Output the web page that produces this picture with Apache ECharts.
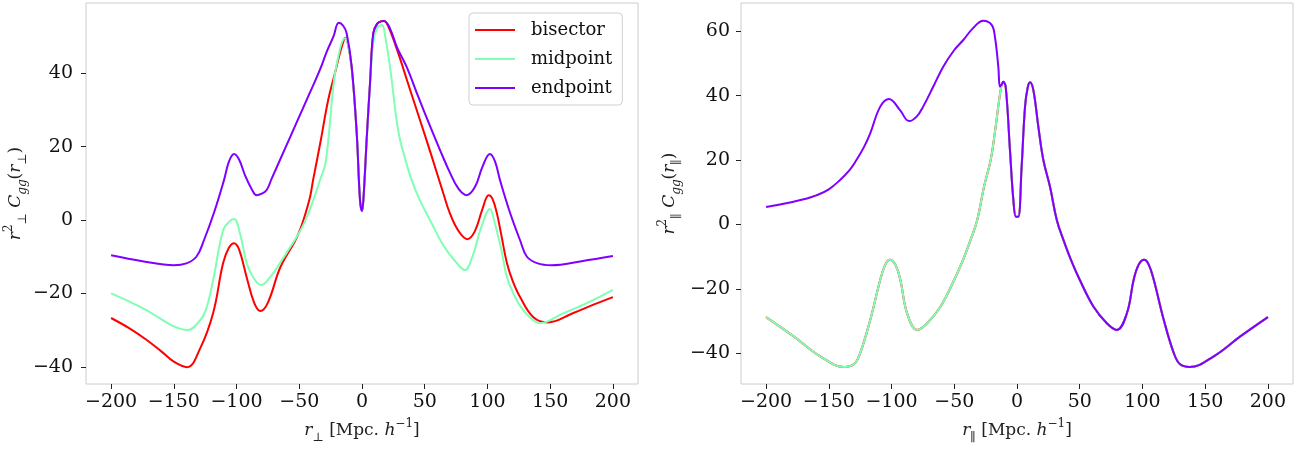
<!DOCTYPE html>
<html><head><meta charset="utf-8">
<script src="https://cdn.jsdelivr.net/npm/echarts@6/dist/echarts.min.js"></script>
<style>html,body{margin:0;padding:0;background:#fff}#c{width:1303px;height:450px}</style>
</head><body><div id="c"></div>
<script>
// ---- data: left panel (r_perp) ----
var perpBisectorX = [-200,-185,-171.6,-160,-150,-139.4,-129,-118.7,-110.7,-106,-102,-98,-92,-86,-81,-75,-65,-51,-42,-39,-33,-27,-22,-18,-15,-13.5,-11.5,-8.2,-4.2,-1.6,0,1.1,4,6.4,9,12,15,17.5,21,28,36,46,55,64.8,70,77,84,90,96,101,104,107.5,111,115.5,120,126,136.6,148,168,185,200];
var perpBisectorY = [-26.7,-29.6,-32.7,-35.8,-38.6,-40.1,-35,-25.4,-11.7,-7.5,-6.3,-8,-15.5,-22.5,-24.8,-22.5,-12.8,-4,5.5,10.9,21.5,32.7,39.5,45,48.5,49.7,48.5,41.5,23.6,5.5,2.5,5.5,23.7,37.4,51,53.5,54.2,54.3,52.8,46.4,38,27.5,18,7.3,1.9,-3,-5.2,-3,3,6.8,5.8,1.9,-4,-11.7,-16.5,-21,-26.5,-27.9,-25.4,-23,-21];
var perpMidpointX = [-200,-185,-171.6,-160,-150,-139,-129,-124,-118.7,-110.7,-106,-102,-97,-91.9,-86,-80.5,-72,-65,-58,-51,-45,-38.8,-33.5,-28.9,-22.3,-18.9,-16,-13.5,-11.5,-8.2,-4.2,-1.6,0,1.1,4,6.4,9,12,15.7,19,23,29,35,39.6,46,55,65,75,82,88,95,102,106,107.3,111,115.3,120,126,134,142,160,180,200];
var perpMidpointY = [-20,-22.3,-24.6,-27,-29,-30,-27.3,-24,-16.4,-2.7,-0.5,0.3,-4,-11.8,-16,-17.7,-15,-11.5,-7.8,-4,0,5.5,10.9,15.9,38.2,44.6,48.5,49.6,48.5,41.5,23.6,5.5,2.5,5.5,23,37,48.5,52.3,53.2,49,40,24.1,16,10.9,5.5,-0.5,-7,-11.5,-13.6,-10,-2,3,-1,-2.7,-8,-15.3,-19.5,-23.4,-26.6,-28.1,-25.5,-22.5,-19];
var perpEndpointX = [-200,-175,-150,-140,-132,-126,-118,-110,-106,-102,-98,-93,-88,-84,-80,-76,-72,-62,-52,-42,-33.5,-28,-22.8,-18.5,-15,-12.2,-8.2,-4.2,-1.6,0,1.1,4,6.4,9,12,15,17.5,22,28,35.6,45,55,62.2,70,77,83.4,90,96,102,106,110,118,126,131.5,140,151,175,200];
var perpEndpointY = [-9.6,-11.2,-12.3,-11.8,-10,-5.5,2,10.9,16,18,16.5,12,8.5,6.8,7.2,8.2,11.3,19,26.7,34.4,41,46,50,53.8,53,50.9,41.8,23.6,5.5,2.5,5.5,23.7,37.4,51,53.5,54.2,54.3,52.5,47,41.8,33.5,25,19.1,13,8.5,6.8,9,14.5,18,16,10.9,2,-5.5,-10,-11.8,-12.3,-11.2,-9.8];

// ---- data: right panel (r_par) ----
var parEndpointX = [-200,-190,-180,-170,-160,-150,-141,-134,-128,-122,-117,-109,-102,-93.4,-86,-80,-74.8,-66,-58.8,-50,-42.8,-35,-26.9,-20.2,-17.6,-14.9,-13.6,-12.2,-11,-9,-5.6,-2.9,-0.8,1,3.7,6.4,8.5,10.4,13,17,21,26.3,31.7,37,43,50,60.9,71.6,79.6,87.6,93,97,101.4,105,109,117,125,130,137.6,156.8,178,200];
var parEndpointY = [5.4,6.1,6.9,7.8,9,10.9,13.8,16.6,20,24,28.3,36.6,39,35.6,32.1,33.5,36.6,43.4,49,54.2,57.3,61,63.3,62,58.3,49,42.8,43.5,44.3,42.7,23,7.6,2.4,2.4,18,36.6,42.5,44.2,41.8,30.4,20,11.7,1.4,-4.8,-11,-17.2,-25.5,-30.7,-32.8,-27.6,-17.2,-12.5,-11,-12.5,-17.2,-29.7,-40,-43.5,-44.3,-41,-34.8,-28.8];
var parMidpointX = [-200,-178,-156.8,-137.6,-130,-125,-117,-109,-105,-101.4,-97,-93,-87.6,-79.6,-71.6,-60.9,-50,-43,-37,-31.7,-26.3,-21,-17,-13,-11,-9,-5.6,-2.9,-0.8,1,3.7,6.4,8.5,10.4,13,17,21,26.3,31.7,37,43,50,60.9,71.6,79.6,87.6,93,97,101.4,105,109,117,125,130,137.6,156.8,178,200];
var parMidpointY = [-28.8,-34.8,-41,-44.3,-43.5,-40,-29.7,-17.2,-12.5,-11,-12.5,-17.2,-27.6,-32.8,-30.7,-25.5,-17.2,-11,-4.8,1.4,11.7,20,30.4,41.8,44.3,42.7,23,7.6,2.4,2.4,18,36.6,42.5,44.2,41.8,30.4,20,11.7,1.4,-4.8,-11,-17.2,-25.5,-30.7,-32.8,-27.6,-17.2,-12.5,-11,-12.5,-17.2,-29.7,-40,-43.5,-44.3,-41,-34.8,-28.8];
var parBisectorX = [-200,-178,-156.8,-137.6,-130,-125,-117,-109,-105,-101.4,-97,-93,-87.6,-79.6,-71.6,-60.9,-50,-43,-37,-31.7,-26.3,-21,-17,-13,-11,-9,-5.6,-2.9,-0.8,1,3.7,6.4,8.5,10.4,13,17,21,26.3,31.7,37,43,50,60.9,71.6,79.6,87.6,93,97,101.4,105,109,117,125,130,137.6,156.8,178,200];
var parBisectorY = [-28.8,-34.8,-41,-44.3,-43.5,-40,-29.7,-17.2,-12.5,-11,-12.5,-17.2,-27.6,-32.8,-30.7,-25.5,-17.2,-11,-4.8,1.4,11.7,20,30.4,41.8,44.3,42.7,23,7.6,2.4,2.4,18,36.6,42.5,44.2,41.8,30.4,20,11.7,1.4,-4.8,-11,-17.2,-25.5,-30.7,-32.8,-27.6,-17.2,-12.5,-11,-12.5,-17.2,-29.7,-40,-43.5,-44.3,-41,-34.8,-28.8];

// ---- ticks ----
var xTicks = [-200,-150,-100,-50,0,50,100,150,200];
var yTicksLeft = [-40,-20,0,20,40];
var yTicksRight = [-40,-20,0,20,40,60];
var seriesNames = ['bisector','midpoint','endpoint'];
var colors = ['#ff0000','#80feb3','#8000ff'];

function zip(xs, ys){ var o=[]; for(var i=0;i<xs.length;i++) o.push([xs[i],ys[i]]); return o; }
var FONT = 'DejaVu Serif';
function fmt(v){ return String(v).replace('-', '\u2212'); }

var nameRich = {
  i:{fontFamily:FONT,fontStyle:'italic',fontSize:17,color:'#222',lineHeight:26},
  n:{fontFamily:FONT,fontSize:17,color:'#222',lineHeight:26},
  sub:{fontFamily:FONT,fontStyle:'italic',fontSize:12,color:'#222',verticalAlign:'bottom',lineHeight:26},
  sup:{fontFamily:FONT,fontSize:12,color:'#222',verticalAlign:'top',lineHeight:26}
};

function xAxis(grid, name){
  return {type:'value', gridIndex:grid, min:-220, max:220,
    axisLine:{show:false, onZero:false}, splitLine:{show:false},
    axisTick:{show:true, inside:false, length:5, lineStyle:{color:'#222',width:1}, customValues:xTicks},
    axisLabel:{show:true, margin:9, fontFamily:FONT, fontSize:19, color:'#111', formatter:fmt, customValues:xTicks},
    name:name, nameLocation:'middle', nameGap:34, nameTextStyle:{rich:nameRich}};
}
function yAxis(grid, min, max, ticks, name, gap, margin){
  return {type:'value', gridIndex:grid, min:min, max:max,
    axisLine:{show:false, onZero:false}, splitLine:{show:false},
    axisTick:{show:true, inside:false, length:5, lineStyle:{color:'#222',width:1}, customValues:ticks},
    axisLabel:{show:true, margin:margin, fontFamily:FONT, fontSize:19, color:'#111', formatter:fmt, customValues:ticks},
    name:name, nameLocation:'middle', nameRotate:90, nameGap:gap, nameTextStyle:{rich:nameRich}};
}
function line(name, color, xi, data){
  return {type:'line', name:name, xAxisIndex:xi, yAxisIndex:xi, data:data, showSymbol:false, symbol:'none',
    smooth:0.4, lineStyle:{color:color, width:2}, itemStyle:{color:color}, emphasis:{disabled:true}, silent:true};
}

var chart = echarts.init(document.getElementById('c'), null, {renderer:'canvas'});
chart.setOption({
  animation:false,
  backgroundColor:'#fff',
  grid:[
    {left:86, top:3, width:552, height:381, show:true, borderColor:'#cccccc', borderWidth:1, backgroundColor:'transparent'},
    {left:741, top:3, width:552, height:381, show:true, borderColor:'#cccccc', borderWidth:1, backgroundColor:'transparent'}
  ],
  xAxis:[
    xAxis(0, '{i|r}{sub|\u22a5}{n| [Mpc.}{i| h}{sup|\u22121}{n|]}'),
    xAxis(1, '{i|r}{sub|\u2225}{n| [Mpc.}{i| h}{sup|\u22121}{n|]}')
  ],
  yAxis:[
    yAxis(0, -44.7, 59.2, yTicksLeft, '{i|r}{sup|2}{sub|\u22a5}{n| }{i|C}{sub|gg}{n|(}{i|r}{sub|\u22a5}{n|)}', 52, 13),
    yAxis(1, -49.6, 68.8, yTicksRight, '{i|r}{sup|2}{sub|\u2225}{n| }{i|C}{sub|gg}{n|(}{i|r}{sub|\u2225}{n|)}', 58, 11)
  ],
  legend:{
    show:true, orient:'vertical', left:469, top:13, data:seriesNames,
    backgroundColor:'rgba(255,255,255,0.8)', borderColor:'#d0d0d0', borderWidth:1, borderRadius:4,
    padding:[7,10,7,6], itemGap:9, itemWidth:40, itemHeight:2,
    icon:'rect', selectedMode:false,
    textStyle:{fontFamily:FONT, fontSize:18, color:'#111', padding:[0,0,0,11], lineHeight:20}
  },
  series:[
    line(seriesNames[0], colors[0], 0, zip(perpBisectorX, perpBisectorY)),
    line(seriesNames[1], colors[1], 0, zip(perpMidpointX, perpMidpointY)),
    line(seriesNames[2], colors[2], 0, zip(perpEndpointX, perpEndpointY)),
    line(seriesNames[0], colors[0], 1, zip(parBisectorX, parBisectorY)),
    line(seriesNames[1], colors[1], 1, zip(parMidpointX, parMidpointY)),
    line(seriesNames[2], colors[2], 1, zip(parEndpointX, parEndpointY))
  ]
});
</script></body></html>
